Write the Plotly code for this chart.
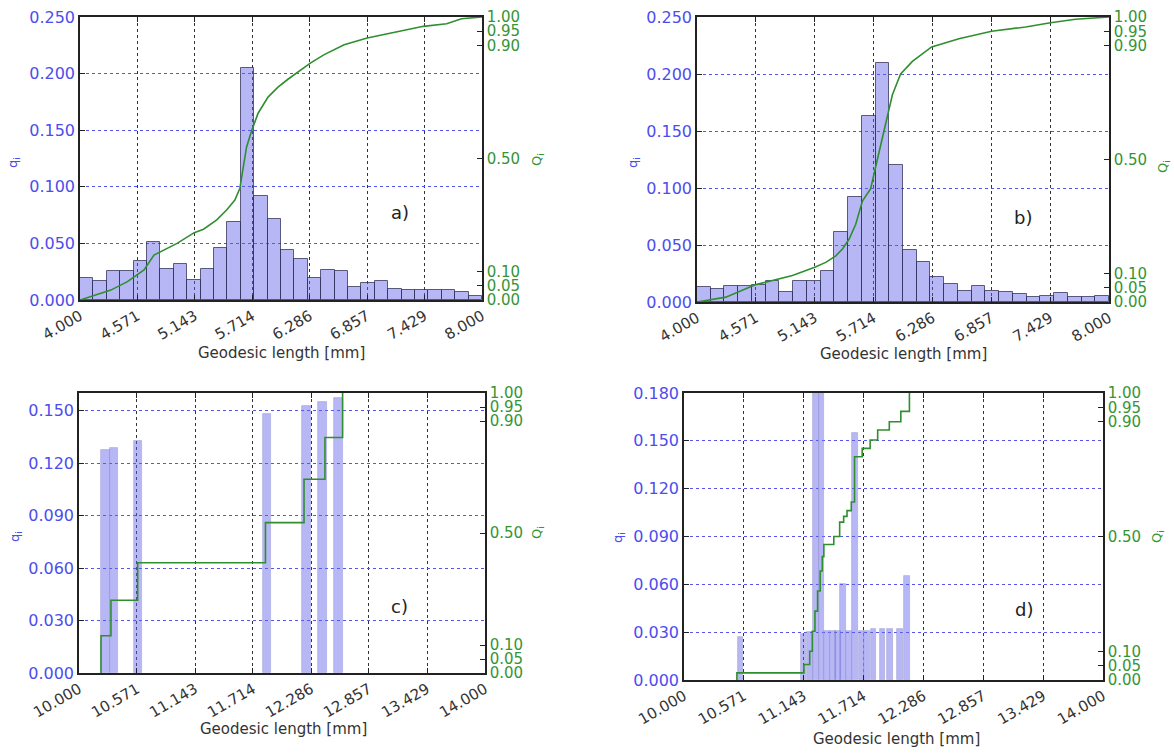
import numpy as np
import plotly.graph_objects as go

W, H = 1174, 753

# ---------------- data ----------------
ab_ticklabels = ["4.000", "4.571", "5.143", "5.714", "6.286", "6.857", "7.429", "8.000"]
cd_ticklabels = ["10.000", "10.571", "11.143", "11.714", "12.286", "12.857", "13.429", "14.000"]
Q_ticklabels = ["0.00", "0.05", "0.10", "0.50", "0.90", "0.95", "1.00"]
ab_q_ticklabels = ["0.000", "0.050", "0.100", "0.150", "0.200", "0.250"]
c_q_ticklabels = ["0.000", "0.030", "0.060", "0.090", "0.120", "0.150"]
d_q_ticklabels = ["0.000", "0.030", "0.060", "0.090", "0.120", "0.150", "0.180"]

# panel a: histogram (30 bins on 4..8) and cumulative curve
a_bin_range = (4.0, 8.0)
a_q = [0.019, 0.0166, 0.0253, 0.0256, 0.0346, 0.0515, 0.0274, 0.0319, 0.0175, 0.0274,
       0.0458, 0.0687, 0.205, 0.092, 0.0717, 0.044, 0.0364, 0.019, 0.0265, 0.0256,
       0.0114, 0.015, 0.0166, 0.0096, 0.009, 0.009, 0.009, 0.0084, 0.0069, 0.0039]
a_Q_x = [4.0, 4.307, 4.472, 4.571, 4.637, 4.736, 4.835, 4.966, 5.137, 5.229, 5.361,
         5.459, 5.541, 5.591, 5.625, 5.657, 5.706, 5.772, 5.871, 5.97, 6.069, 6.167,
         6.292, 6.43, 6.628, 6.858, 7.088, 7.417, 7.648, 7.796, 8.0]
a_Q = [0.0, 0.035, 0.065, 0.088, 0.106, 0.159, 0.177, 0.2, 0.238, 0.25, 0.283,
       0.318, 0.353, 0.395, 0.47, 0.54, 0.596, 0.66, 0.717, 0.752, 0.78, 0.805,
       0.837, 0.867, 0.902, 0.926, 0.943, 0.967, 0.976, 0.994, 1.0]

# panel b
b_bin_range = (4.0, 8.0)
b_q = [0.013, 0.0115, 0.014, 0.0144, 0.0153, 0.0188, 0.0092, 0.0188, 0.018, 0.027,
       0.0616, 0.0922, 0.163, 0.210, 0.120, 0.0456, 0.0354, 0.0217, 0.0159, 0.010,
       0.014, 0.010, 0.0089, 0.0071, 0.0042, 0.0054, 0.008, 0.0048, 0.0042, 0.0057]
b_Q_x = [4.0, 4.28, 4.571, 4.797, 4.927, 5.143, 5.25, 5.347, 5.412, 5.476, 5.541,
         5.606, 5.686, 5.751, 5.816, 5.897, 5.977, 6.091, 6.278, 6.543, 6.86, 7.19,
         7.432, 7.675, 8.0]
b_Q = [0.0, 0.017, 0.061, 0.081, 0.093, 0.122, 0.139, 0.162, 0.186, 0.22, 0.273,
       0.354, 0.398, 0.5, 0.6, 0.727, 0.8, 0.844, 0.895, 0.924, 0.95, 0.965,
       0.98, 0.992, 1.0]

# panel c: few bars and step cumulative
c_bar_x = [10.26, 10.342, 10.584, 11.85, 12.24, 12.40, 12.558]
c_q = [0.1272, 0.1283, 0.1323, 0.148, 0.1527, 0.1548, 0.157]
c_bar_width = 0.082
c_step_x = [10.217, 10.315, 10.578, 11.837, 12.217, 12.423, 12.597]
c_step_Q = [0.133, 0.26, 0.394, 0.537, 0.692, 0.841, 1.0]

# panel d
d_bar_x = [10.54, 11.14, 11.20, 11.257, 11.313, 11.368, 11.42, 11.468, 11.52, 11.575,
           11.635, 11.695, 11.75, 11.81, 11.895, 11.968, 12.06, 12.127]
d_q = [0.027, 0.029, 0.030, 0.185, 0.185, 0.031, 0.031, 0.031, 0.060, 0.031,
       0.155, 0.031, 0.031, 0.032, 0.032, 0.032, 0.032, 0.065]
d_bar_width = 0.055
d_step_x = [10.505, 11.145, 11.20, 11.225, 11.25, 11.275, 11.30, 11.32, 11.335, 11.43,
            11.486, 11.524, 11.556, 11.597, 11.628, 11.701, 11.777, 11.849, 11.96,
            12.07, 12.152]
d_step_Q = [0.025, 0.054, 0.10, 0.17, 0.24, 0.31, 0.38, 0.43, 0.472, 0.50,
            0.55, 0.57, 0.59, 0.62, 0.778, 0.807, 0.836, 0.871, 0.90,
            0.936, 1.0]

# ---------------- styling ----------------
BLUE_TXT = "#4d4dee"
GREEN_TXT = "#359535"
GREEN_LINE = "#2f8f2f"
BAR_FILL = "rgba(95,95,235,0.45)"
FONT = "DejaVu Sans"


def hist_centers(rng, n):
    edges = np.linspace(rng[0], rng[1], n + 1)
    return (edges[:-1] + edges[1:]) / 2, (rng[1] - rng[0]) / n


def step_path(sx, sQ):
    xs, ys = [], []
    prev = 0.0
    for x, q in zip(sx, sQ):
        xs += [x, x]
        ys += [prev, q]
        prev = q
    return xs, ys


panels = [
    dict(label="a)", xpx=(80, 482), ypx=(17, 300), xr=(4, 8), yr=(0, 0.25),
         xt=ab_ticklabels, yt=ab_q_ticklabels, lab=(7.18, 0.077),
         qlab=(13, 163), Qlab=(537, 160), xtitle=(281, 353)),
    dict(label="b)", xpx=(697, 1109), ypx=(17, 302), xr=(4, 8), yr=(0, 0.25),
         xt=ab_ticklabels, yt=ab_q_ticklabels, lab=(7.165, 0.074),
         qlab=(633, 163), Qlab=(1163, 167), xtitle=(903, 354)),
    dict(label="c)", xpx=(79, 485), ypx=(393, 673), xr=(10, 14), yr=(0, 0.16),
         xt=cd_ticklabels, yt=c_q_ticklabels, lab=(13.16, 0.038),
         qlab=(15, 537), Qlab=(537, 533), xtitle=(283, 729)),
    dict(label="d)", xpx=(684, 1103), ypx=(393, 680), xr=(10, 14), yr=(0, 0.18),
         xt=cd_ticklabels, yt=d_q_ticklabels, lab=(13.25, 0.044),
         qlab=(618, 538), Qlab=(1157, 537), xtitle=(896, 739)),
]

fig = go.Figure()
layout = {}
annotations = []


def key(prefix, n):
    return prefix + ("" if n == 1 else str(n))


for i, p in enumerate(panels):
    xn, yl, yr_ = i + 1, 2 * i + 1, 2 * i + 2
    xref = key("x", xn)
    ylref = key("y", yl)
    yrref = key("y", yr_)

    if i == 0:
        cx, w = hist_centers(a_bin_range, len(a_q))
        bars = dict(x=cx, y=a_q, width=w, line=dict(color="rgba(45,45,85,0.75)", width=1))
        lx, ly = a_Q_x, a_Q
    elif i == 1:
        cx, w = hist_centers(b_bin_range, len(b_q))
        bars = dict(x=cx, y=b_q, width=w, line=dict(color="rgba(45,45,85,0.75)", width=1))
        lx, ly = b_Q_x, b_Q
    elif i == 2:
        bars = dict(x=c_bar_x, y=c_q, width=c_bar_width,
                    line=dict(color="rgba(140,140,210,0.5)", width=0.8))
        lx, ly = step_path(c_step_x, c_step_Q)
    else:
        bars = dict(x=d_bar_x, y=d_q, width=d_bar_width,
                    line=dict(color="rgba(150,150,200,0.6)", width=0.8))
        lx, ly = step_path(d_step_x, d_step_Q)

    fig.add_trace(go.Bar(x=bars["x"], y=bars["y"], width=bars["width"],
                         marker=dict(color=BAR_FILL, line=bars["line"]),
                         xaxis=xref, yaxis=ylref, showlegend=False))
    fig.add_trace(go.Scatter(x=lx, y=ly, mode="lines",
                             line=dict(color=GREEN_LINE, width=1.6),
                             xaxis=xref, yaxis=yrref, showlegend=False))

    xdom = [p["xpx"][0] / W, p["xpx"][1] / W]
    ydom = [1 - p["ypx"][1] / H, 1 - p["ypx"][0] / H]

    layout[key("xaxis", xn)] = dict(
        domain=xdom, anchor=ylref, range=list(p["xr"]), automargin=False,
        tickvals=[float(t) for t in p["xt"]], ticktext=p["xt"],
        tickangle=-30, tickfont=dict(family=FONT, size=15, color="#333333"),
        ticks="inside", ticklen=5, tickcolor="#222222", tickwidth=1.2,
        showline=True, linecolor="#222222", linewidth=1.5, mirror="ticks",
        showgrid=True, gridcolor="#333333", griddash="dot", gridwidth=1,
        zeroline=False,
    )
    layout[key("yaxis", yl)] = dict(
        domain=ydom, anchor=xref, range=list(p["yr"]), automargin=False,
        tickvals=[float(t) for t in p["yt"]], ticktext=p["yt"],
        tickfont=dict(family=FONT, size=16, color=BLUE_TXT),
        ticks="inside", ticklen=5, tickcolor="#222222", tickwidth=1.2,
        showline=True, linecolor="#222222", linewidth=1.5,
        showgrid=True, gridcolor="#5555ee", griddash="dot", gridwidth=1,
        zeroline=False,
    )
    layout[key("yaxis", yr_)] = dict(
        overlaying=ylref, side="right", anchor=xref, range=[0, 1], automargin=False,
        tickvals=[float(t) for t in Q_ticklabels], ticktext=Q_ticklabels,
        tickfont=dict(family=FONT, size=15, color=GREEN_TXT),
        ticks="inside", ticklen=5, tickcolor="#222222", tickwidth=1.2,
        showline=True, linecolor="#222222", linewidth=1.5,
        showgrid=False, zeroline=False,
    )

    annotations.append(dict(text=p["label"], x=p["lab"][0], y=p["lab"][1],
                            xref=xref, yref=ylref, showarrow=False,
                            font=dict(family=FONT, size=18, color="#222222")))
    annotations.append(dict(text="q<sub>i</sub>", x=p["qlab"][0] / W, y=1 - p["qlab"][1] / H,
                            xref="paper", yref="paper", showarrow=False, textangle=-90,
                            xanchor="center", yanchor="middle",
                            font=dict(family=FONT, size=13, color=BLUE_TXT)))
    annotations.append(dict(text="Q<sub>i</sub>", x=p["Qlab"][0] / W, y=1 - p["Qlab"][1] / H,
                            xref="paper", yref="paper", showarrow=False, textangle=-90,
                            xanchor="center", yanchor="middle",
                            font=dict(family=FONT, size=13, color=GREEN_TXT)))
    annotations.append(dict(text="Geodesic length [mm]", x=p["xtitle"][0] / W,
                            y=1 - p["xtitle"][1] / H, xref="paper", yref="paper",
                            showarrow=False, xanchor="center", yanchor="middle",
                            font=dict(family=FONT, size=15, color="#333333")))

fig.update_layout(**layout)
fig.update_layout(
    width=W, height=H, autosize=False,
    margin=dict(l=0, r=0, t=0, b=0),
    paper_bgcolor="white", plot_bgcolor="white",
    bargap=0, annotations=annotations,
    font=dict(family=FONT),
)

fig.write_html("out.html",
               config={"displayModeBar": False},
               post_script="document.body.style.margin='0px';"
                           "document.body.style.overflow='hidden';")
